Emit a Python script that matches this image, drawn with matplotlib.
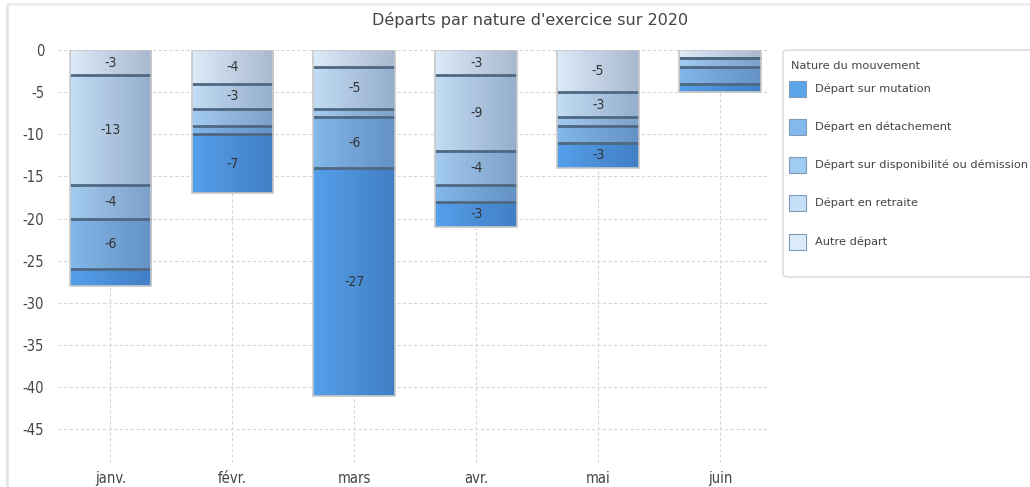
import numpy as np
import matplotlib
matplotlib.use("Agg")
import matplotlib.pyplot as plt
from matplotlib.colors import LinearSegmentedColormap
from matplotlib.patches import Rectangle, FancyBboxPatch

months = ["janv.", "févr.", "mars", "avr.", "mai", "juin"]
series_names = ["Autre départ", "Départ en retraite",
                "Départ sur disponibilité ou démission",
                "Départ en détachement", "Départ sur mutation"]
autre = [-3, -4, -2, -3, -5, -1]
retraite = [-13, -3, -5, -9, -3, 0]
dispo = [-4, -2, -1, -4, -1, -1]
detachement = [-6, -1, -6, -2, -2, -2]
mutation = [-2, -7, -27, -3, -3, -1]
series_values = [autre, retraite, dispo, detachement, mutation]
y_ticks = [0, -5, -10, -15, -20, -25, -30, -35, -40, -45]
title = "Départs par nature d'exercice sur 2020"
legend_title = "Nature du mouvement"

colors = ["#dcebf9", "#c3ddf5", "#a3cbf0", "#83b8ea", "#55a0eb"]
legend_colors = ["#dcebf9", "#c4dff7", "#a0ccf3", "#84b9ee", "#5ba4ea"]

plt.rcParams["font.family"] = ["DejaVu Sans"]
NARROW = dict(family="DejaVu Sans", stretch="condensed")

W, H = 1030, 487
fig = plt.figure(figsize=(W / 100, H / 100), dpi=100)
ax = fig.add_axes([58 / W, 1 - 463 / H, (770 - 58) / W, (463 - 50) / H])

x = np.arange(len(months))
width = 0.67
grad = np.linspace(0, 1, 256).reshape(1, -1)
shade = LinearSegmentedColormap.from_list(
    "shade", [(0, 0, 0.2, 0.0), (0, 0.1, 0.3, 0.24)])

bottom = np.zeros(len(months))
for name, vals, col in zip(series_names, series_values, colors):
    vals = np.array(vals, dtype=float)
    bars = ax.bar(x, vals, width, bottom=bottom, color=col,
                  edgecolor="none", zorder=3)
    for rect, v in zip(bars, vals):
        if v == 0:
            continue
        x0, y0 = rect.get_x(), rect.get_y()
        x1, y1 = x0 + rect.get_width(), y0 + rect.get_height()
        im = ax.imshow(grad, extent=[x0, x1, min(y0, y1), max(y0, y1)],
                       cmap=shade, aspect="auto", zorder=3.5,
                       interpolation="bicubic")
        im.set_clip_path(rect)
    for xi, v, b in zip(x, vals, bottom):
        if abs(v) >= 3:
            ax.text(xi, b + v / 2, f"{int(v)}", ha="center", va="center",
                    fontsize=10, color="#333333", zorder=6, **NARROW)
    bottom = bottom + vals

# separators between segments
cum = np.zeros(len(months))
for vals in series_values[:-1]:
    cum = cum + np.array(vals, dtype=float)
    ax.hlines(cum, x - width / 2, x + width / 2, colors="#4f6882",
              linewidth=2.0, zorder=4)

# outline / shadow of full bars
totals = np.sum(np.array(series_values, dtype=float), axis=0)
ax.bar(x, totals, width, facecolor="none", edgecolor="#c8c8c8",
       linewidth=1.2, zorder=5)

ax.set_xlim(-0.43, 5.41)
ax.set_ylim(-49, 0)
ax.set_xticks(x)
ax.set_xticklabels(months)
ax.set_yticks(y_ticks)
ax.set_yticklabels([str(t) for t in y_ticks])
for lab in ax.get_xticklabels() + ax.get_yticklabels():
    lab.set_family("DejaVu Sans")
    lab.set_stretch("condensed")
    lab.set_fontsize(10.5)
    lab.set_color("#444444")
ax.tick_params(length=0, pad=10)
ax.tick_params(axis="x", pad=6)
ax.grid(True, linestyle=(0, (3, 2)), color="#d8d8d8", linewidth=0.8, zorder=0)
for s in ax.spines.values():
    s.set_visible(False)

fig.text(0.515, 1 - 20 / H, title, ha="center", va="center",
         fontsize=11.5, color="#444444")

# legend box drawn by hand
fig.patches.append(FancyBboxPatch((783 / W, 1 - 277 / H), 300 / W, 227 / H,
                                  boxstyle="round,pad=0,rounding_size=0.006",
                                  transform=fig.transFigure, facecolor="white",
                                  edgecolor="#d8d8d8", linewidth=1.0,
                                  zorder=1))
fig.text(791 / W, 1 - 66 / H, legend_title, ha="left", va="center",
         fontsize=8.2, color="#444444", zorder=2)
leg_y = [89, 127, 165, 203, 242]
for yy, name, col in zip(leg_y, series_names[::-1], legend_colors[::-1]):
    fig.patches.append(Rectangle((789 / W, 1 - (yy + 8) / H), 17 / W, 16 / H,
                                 transform=fig.transFigure, facecolor=col,
                                 edgecolor="#7f9bb8", linewidth=0.8, zorder=2))
    fig.text(815 / W, 1 - yy / H, name, ha="left", va="center",
             fontsize=8.2, color="#444444", zorder=2)

# thin frame lines at left and top of the figure
fig.add_artist(plt.Line2D([7 / W, 7 / W], [0, 1 - 4 / H],
                          transform=fig.transFigure, color="#e4e4e4", lw=2))
fig.add_artist(plt.Line2D([7 / W, 1], [1 - 4 / H, 1 - 4 / H],
                          transform=fig.transFigure, color="#eeeeee", lw=2))

fig.savefig("out.png", dpi=100)
